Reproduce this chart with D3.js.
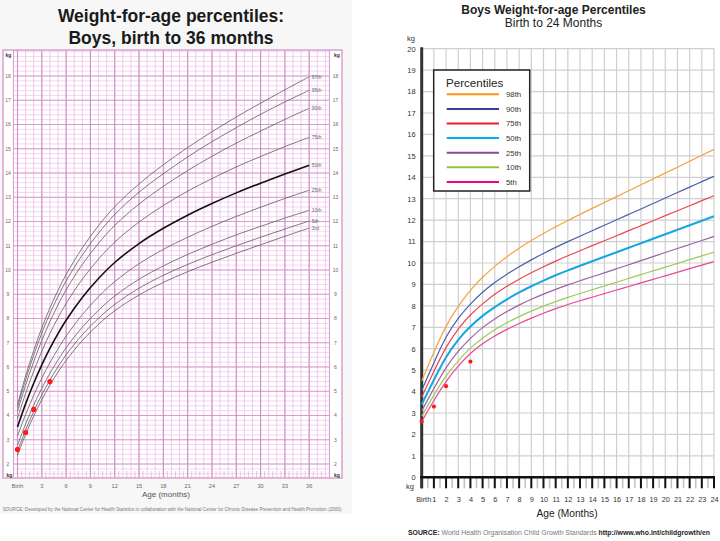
<!DOCTYPE html>
<html><head><meta charset="utf-8">
<script src="https://cdn.jsdelivr.net/npm/d3@7"></script>
<style>
body{margin:0;background:#fff}
svg{display:block}
text{font-family:"Liberation Sans",Arial,Helvetica,sans-serif}
</style>
</head><body>
<svg id="c" width="720" height="541"></svg>
<script>
// ---------- LEFT CHART DATA (CDC, boys, birth to 36 months) ----------
const cdcMonths = [0,1,2,3,4,5,6,8,10,12,15,18,21,24,27,30,33,36];
const cdcP97 = [4.45,5.63,6.68,7.61,8.43,9.16,9.81,10.91,11.83,12.61,13.55,14.34,15.05,15.70,16.31,16.88,17.43,17.97];
const cdcP95 = [4.34,5.47,6.49,7.40,8.20,8.91,9.55,10.62,11.52,12.29,13.21,13.97,14.66,15.29,15.87,16.42,16.93,17.41];
const cdcP90 = [4.17,5.25,6.22,7.09,7.87,8.56,9.18,10.23,11.10,11.84,12.72,13.45,14.10,14.69,15.23,15.73,16.21,16.67];
const cdcP75 = [3.88,4.91,5.83,6.65,7.38,8.03,8.62,9.62,10.45,11.15,11.98,12.66,13.25,13.77,14.25,14.68,15.09,15.47];
const cdcP50 = [3.53,4.48,5.33,6.09,6.77,7.38,7.93,8.87,9.65,10.31,11.09,11.72,12.26,12.74,13.18,13.58,13.96,14.32];
const cdcP25 = [3.15,4.04,4.83,5.54,6.18,6.75,7.27,8.16,8.90,9.52,10.26,10.85,11.35,11.80,12.21,12.59,12.95,13.29];
const cdcP10 = [2.77,3.65,4.43,5.12,5.74,6.29,6.79,7.64,8.34,8.93,9.62,10.17,10.64,11.06,11.45,11.80,12.14,12.46];
const cdcP5  = [2.53,3.40,4.17,4.85,5.46,6.01,6.50,7.33,8.01,8.58,9.25,9.78,10.23,10.63,11.00,11.35,11.69,12.02];
const cdcP3  = [2.36,3.22,3.98,4.65,5.25,5.79,6.27,7.09,7.76,8.32,8.97,9.49,9.93,10.32,10.69,11.04,11.39,11.73];
const cdcLabels = ["97th","95th","90th","75th","50th","25th","10th","5th","3rd"];
const cdcXTicks = [0,3,6,9,12,15,18,21,24,27,30,33,36];
const cdcXTickLabels = ["Birth","3","6","9","12","15","18","21","24","27","30","33","36"];
const cdcYTicks = [2,3,4,5,6,7,8,9,10,11,12,13,14,15,16,17,18];

// ---------- RIGHT CHART DATA (WHO, boys, birth to 24 months) ----------
const whoMonths = [0,1,2,3,4,5,6,7,8,9,10,11,12,13,14,15,16,17,18,19,20,21,22,23,24];
const whoP98 = [4.50,5.85,7.10,8.00,8.75,9.35,9.85,10.30,10.70,11.05,11.38,11.69,11.99,12.27,12.55,12.82,13.10,13.37,13.65,13.92,14.20,14.47,14.75,15.03,15.30];
const whoP90 = [4.05,5.35,6.60,7.45,8.10,8.65,9.10,9.48,9.83,10.15,10.45,10.73,11.00,11.25,11.51,11.76,12.02,12.27,12.52,12.78,13.03,13.29,13.54,13.80,14.05];
const whoP75 = [3.75,4.95,6.10,6.95,7.60,8.10,8.55,8.92,9.25,9.55,9.83,10.09,10.34,10.57,10.81,11.04,11.27,11.51,11.74,11.97,12.21,12.44,12.67,12.91,13.14];
const whoP50 = [3.40,4.55,5.65,6.45,7.05,7.55,7.95,8.31,8.63,8.92,9.18,9.43,9.66,9.87,10.08,10.29,10.50,10.71,10.92,11.13,11.34,11.55,11.76,11.97,12.18];
const whoP25 = [3.10,4.15,5.15,5.90,6.50,7.00,7.40,7.74,8.04,8.31,8.55,8.77,8.98,9.17,9.36,9.54,9.73,9.92,10.11,10.30,10.49,10.68,10.86,11.05,11.24];
const whoP10 = [2.85,3.85,4.75,5.45,6.05,6.50,6.90,7.22,7.50,7.76,7.99,8.20,8.40,8.58,8.75,8.93,9.10,9.28,9.46,9.63,9.81,9.98,10.16,10.33,10.51];
const whoP5  = [2.60,3.60,4.50,5.20,5.80,6.25,6.60,6.91,7.18,7.43,7.66,7.87,8.07,8.24,8.40,8.57,8.74,8.90,9.07,9.24,9.40,9.57,9.74,9.90,10.07];
const whoLabels = ["98th","90th","75th","50th","25th","10th","5th"];
const whoColors = ["#f6a23e","#4b5faa","#ee4452","#16a6e0","#9a62a7","#9ccb5b","#ec4497"];
const whoLegendColors = ["#f7941d","#2e4397","#ed1c24","#00aeef","#8e479c","#8cc63f","#ec008c"];
const whoXTicks = [0,1,2,3,4,5,6,7,8,9,10,11,12,13,14,15,16,17,18,19,20,21,22,23,24];
const whoXTickLabels = ["Birth","1","2","3","4","5","6","7","8","9","10","11","12","13","14","15","16","17","18","19","20","21","22","23","24"];
const whoYTicks = [0,1,2,3,4,5,6,7,8,9,10,11,12,13,14,15,16,17,18,19,20];

// ---------- CHILD MEASUREMENTS (red dots, both charts) ----------
const childMonths = [0,1,2,4];
const childWeights = [2.6,3.3,4.25,5.4];

const svg = d3.select("#c");

// ================= LEFT CHART =================
const L = svg.append("g");
L.append("rect").attr("x",0).attr("y",0).attr("width",352).attr("height",514).attr("fill","#f7f7f7");

L.append("text").attr("x",171).attr("y",22).attr("text-anchor","middle")
 .attr("font-size",17.5).attr("font-weight","bold").attr("fill","#1a1a1a").text("Weight-for-age percentiles:");
L.append("text").attr("x",171).attr("y",44).attr("text-anchor","middle")
 .attr("font-size",17.5).attr("font-weight","bold").attr("fill","#1a1a1a").text("Boys, birth to 36 months");

const xL = d3.scaleLinear().domain([0,36]).range([17.5,309.2]);
const yL = d3.scaleLinear().domain([2,18]).range([464,76]);

const frame = {x0:3,x1:342,y0:50,y1:478};
const grid = {m0:-0.5,m1:38.5,k0:yL.invert(478),k1:yL.invert(50)};

L.append("rect").attr("x",frame.x0).attr("y",frame.y0).attr("width",frame.x1-frame.x0).attr("height",frame.y1-frame.y0)
 .attr("fill","#fff");

const gx0 = xL(grid.m0), gx1 = xL(grid.m1);
const minorK = d3.range(Math.ceil(grid.k0*5)/5, grid.k1, 0.2);
L.append("g").selectAll("line").data(minorK).join("line")
 .attr("x1",gx0).attr("x2",gx1).attr("y1",d=>yL(d)).attr("y2",d=>yL(d))
 .attr("stroke","#f0cbe8").attr("stroke-width",0.8);
const minorM = d3.range(0,39,1);
L.append("g").selectAll("line").data(minorM).join("line")
 .attr("x1",d=>xL(d)).attr("x2",d=>xL(d)).attr("y1",frame.y0).attr("y2",frame.y1)
 .attr("stroke","#ebbfe2").attr("stroke-width",0.8);
L.append("g").selectAll("line").data(d3.range(0.5,38.5,1)).join("line")
 .attr("x1",d=>xL(d)).attr("x2",d=>xL(d)).attr("y1",471).attr("y2",frame.y1)
 .attr("stroke","#d9a2cf").attr("stroke-width",0.6);
const majorK = d3.range(2,19,1);
L.append("g").selectAll("line").data(majorK).join("line")
 .attr("x1",gx0).attr("x2",gx1).attr("y1",d=>yL(d)).attr("y2",d=>yL(d))
 .attr("stroke","#d79ccc").attr("stroke-width",1);
L.append("g").selectAll("line").data(d3.range(0,39,3)).join("line")
 .attr("x1",d=>xL(d)).attr("x2",d=>xL(d)).attr("y1",frame.y0).attr("y2",frame.y1)
 .attr("stroke","#d08fc4").attr("stroke-width",1.1);
L.append("rect").attr("x",frame.x0).attr("y",frame.y0).attr("width",gx0-frame.x0).attr("height",frame.y1-frame.y0).attr("fill","#fff");
L.append("rect").attr("x",gx1).attr("y",frame.y0).attr("width",frame.x1-gx1).attr("height",frame.y1-frame.y0).attr("fill","#fff");
L.append("line").attr("x1",gx0).attr("x2",gx0).attr("y1",frame.y0).attr("y2",frame.y1).attr("stroke","#d79ccc").attr("stroke-width",1);
L.append("line").attr("x1",gx1).attr("x2",gx1).attr("y1",frame.y0).attr("y2",frame.y1).attr("stroke","#d79ccc").attr("stroke-width",1);
L.append("rect").attr("x",frame.x0).attr("y",frame.y0).attr("width",frame.x1-frame.x0).attr("height",frame.y1-frame.y0)
 .attr("fill","none").attr("stroke","#dba6d1").attr("stroke-width",1.6);

const yAxisL = L.append("g").attr("font-size",5).attr("fill","#666");
yAxisL.selectAll("text.l").data(cdcYTicks).join("text").attr("class","l")
 .attr("x",8).attr("y",d=>yL(d)+1.8).attr("text-anchor","middle").text(d=>d);
yAxisL.selectAll("text.r").data(cdcYTicks).join("text").attr("class","r")
 .attr("x",335.5).attr("y",d=>yL(d)+1.8).attr("text-anchor","middle").text(d=>d);
[[8.5,57],[337,57],[9.5,477],[337,477]].forEach(p=>{
  L.append("text").attr("x",p[0]).attr("y",p[1]).attr("text-anchor","middle").attr("font-size",5)
   .attr("font-weight","bold").attr("fill","#333").text("kg");
});

L.append("g").selectAll("text").data(cdcXTicks).join("text")
 .attr("x",d=>xL(d)).attr("y",488).attr("text-anchor","middle").attr("font-size",5.6).attr("fill","#666")
 .text((d,i)=>cdcXTickLabels[i]);
L.append("text").attr("x",166).attr("y",497).attr("text-anchor","middle").attr("font-size",8).attr("fill","#555")
 .text("Age (months)");
L.append("text").attr("x",2.7).attr("y",510.5).attr("font-size",4.6).attr("fill","#777")
 .attr("textLength",340).attr("lengthAdjust","spacingAndGlyphs")
 .text("SOURCE: Developed by the National Center for Health Statistics in collaboration with the National Center for Chronic Disease Prevention and Health Promotion (2000).");

const cdcSeries = [cdcP97,cdcP95,cdcP90,cdcP75,cdcP50,cdcP25,cdcP10,cdcP5,cdcP3];
const lineL = d3.line().x(d=>xL(d[0])).y(d=>yL(d[1])).curve(d3.curveCatmullRom.alpha(0.5));
cdcSeries.forEach((s,i)=>{
  const pts = cdcMonths.map((m,j)=>[m,s[j]]);
  L.append("path").attr("d",lineL(pts)).attr("fill","none")
   .attr("stroke", i===4 ? "#111" : "#5e5a60").attr("stroke-width", i===4 ? 1.6 : 0.8);
  L.append("text").attr("x",xL(36)+2.5).attr("y",yL(s[s.length-1])+1.8)
   .attr("font-size",5).attr("fill","#666").text(cdcLabels[i]);
});
L.append("g").selectAll("circle").data(childMonths).join("circle")
 .attr("cx",d=>xL(d)).attr("cy",(d,i)=>yL(childWeights[i])).attr("r",2.6).attr("fill","#ff1a1a");

// ================= RIGHT CHART =================
const R = svg.append("g");
const xR = d3.scaleLinear().domain([0,24]).range([421.7,714]);
const yR = d3.scaleLinear().domain([0,20]).range([477.3,48.7]);

R.append("text").attr("x",553.5).attr("y",13.5).attr("text-anchor","middle").attr("font-size",12)
 .attr("font-weight","bold").attr("fill","#222").text("Boys Weight-for-age Percentiles");
R.append("text").attr("x",553.5).attr("y",27).attr("text-anchor","middle").attr("font-size",12)
 .attr("fill","#222").text("Birth to 24 Months");

R.append("g").selectAll("line").data(whoXTicks.slice(1)).join("line")
 .attr("x1",d=>xR(d)).attr("x2",d=>xR(d)).attr("y1",yR(20)).attr("y2",yR(0))
 .attr("stroke","#cfcfcf").attr("stroke-width",1.2);
R.append("g").selectAll("line").data(whoYTicks.slice(1)).join("line")
 .attr("x1",xR(0)).attr("x2",xR(24)).attr("y1",d=>yR(d)).attr("y2",d=>yR(d))
 .attr("stroke","#cfcfcf").attr("stroke-width",1.2);

R.append("g").selectAll("line").data(d3.range(0.5,24,1)).join("line")
 .attr("x1",d=>xR(d)).attr("x2",d=>xR(d)).attr("y1",yR(0)).attr("y2",yR(0)+11)
 .attr("stroke","#c4c4c4").attr("stroke-width",1.6);
R.append("g").selectAll("line").data(whoXTicks).join("line")
 .attr("x1",d=>xR(d)).attr("x2",d=>xR(d)).attr("y1",yR(0)).attr("y2",yR(0)+11)
 .attr("stroke","#111").attr("stroke-width",2);

R.append("line").attr("x1",xR(0)).attr("x2",xR(0)).attr("y1",yR(20)-1.5).attr("y2",yR(0)+11)
 .attr("stroke","#333").attr("stroke-width",3);
R.append("line").attr("x1",xR(0)-1.5).attr("x2",xR(24)+1).attr("y1",yR(0)).attr("y2",yR(0))
 .attr("stroke","#111").attr("stroke-width",2.6);

const yAx = R.append("g").attr("transform",`translate(${xR(0)-5},0)`)
 .call(d3.axisLeft(yR).tickValues(whoYTicks).tickSize(0).tickPadding(1));
yAx.select(".domain").remove();
yAx.selectAll("text").attr("font-size",7.5).attr("fill","#333").attr("font-family","Liberation Sans, Arial, sans-serif");
R.append("text").attr("x",411).attr("y",40.5).attr("text-anchor","middle").attr("font-size",7.5).attr("fill","#333").text("kg");
R.append("text").attr("x",410).attr("y",489).attr("text-anchor","middle").attr("font-size",7.5).attr("fill","#333").text("kg");

const xAx = R.append("g").attr("transform",`translate(0,${yR(0)+19.5})`)
 .call(d3.axisBottom(xR).tickValues(whoXTicks).tickSize(0).tickPadding(0)
   .tickFormat((d,i)=>whoXTickLabels[i]));
xAx.select(".domain").remove();
xAx.selectAll("text").attr("font-size",7.3).attr("fill","#333").attr("font-family","Liberation Sans, Arial, sans-serif");
xAx.selectAll(".tick").filter(d=>d===0).select("text").attr("dx",1.5);

R.append("text").attr("x",567).attr("y",516.5).attr("text-anchor","middle").attr("font-size",10.2).attr("fill","#222")
 .text("Age (Months)");
const src = R.append("text").attr("x",408).attr("y",534.5).attr("font-size",6.9).attr("fill","#222")
 .attr("textLength",302).attr("lengthAdjust","spacingAndGlyphs");
src.append("tspan").attr("font-weight","bold").text("SOURCE: ");
src.append("tspan").attr("fill","#777").text("World Health Organisation Child Growth Standards ");
src.append("tspan").attr("font-weight","bold").text("http://www.who.int/childgrowth/en");

const whoSeries = [whoP98,whoP90,whoP75,whoP50,whoP25,whoP10,whoP5];
const lineR = d3.line().x(d=>xR(d[0])).y(d=>yR(d[1])).curve(d3.curveBasis);
whoSeries.forEach((s,i)=>{
  const pts = whoMonths.map((m,j)=>[m,s[j]]);
  R.append("path").attr("d",lineR(pts)).attr("fill","none")
   .attr("stroke",whoColors[i]).attr("stroke-width", i===3 ? 2 : 1.2);
});
R.append("g").selectAll("circle").data(childMonths).join("circle")
 .attr("cx",d=>xR(d)).attr("cy",(d,i)=>yR(childWeights[i])).attr("r",2.1).attr("fill","#ff1a1a");

const lg = R.append("g");
lg.append("rect").attr("x",433.7).attr("y",70).attr("width",96).attr("height",121)
 .attr("fill","#fff").attr("stroke","#222").attr("stroke-width",1.5);
lg.append("text").attr("x",446).attr("y",87).attr("font-size",11.6).attr("fill","#222").text("Percentiles");
whoLabels.forEach((lab,i)=>{
  const y = 94.3 + i*14.6;
  lg.append("line").attr("x1",446.7).attr("x2",499).attr("y1",y).attr("y2",y)
   .attr("stroke",whoLegendColors[i]).attr("stroke-width",2);
  lg.append("text").attr("x",506).attr("y",y+2.8).attr("font-size",7.8).attr("fill","#333").text(lab);
});
</script>
</body></html>
